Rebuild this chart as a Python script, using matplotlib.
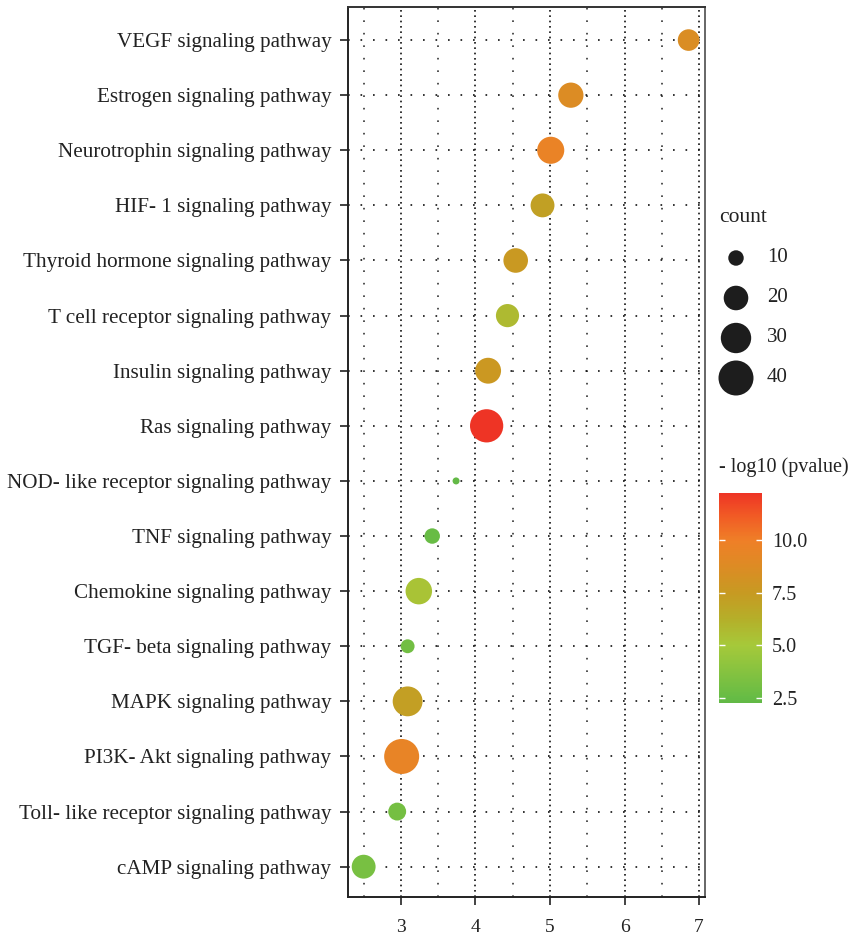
import numpy as np
import matplotlib
matplotlib.use("Agg")
import matplotlib.pyplot as plt
from matplotlib.colors import LinearSegmentedColormap, Normalize
from matplotlib.colorbar import ColorbarBase

plt.rcParams['font.family'] = ['Liberation Serif', 'DejaVu Serif']

# pathways, top to bottom
pathways = [
    "VEGF signaling pathway",
    "Estrogen signaling pathway",
    "Neurotrophin signaling pathway",
    "HIF- 1 signaling pathway",
    "Thyroid hormone signaling pathway",
    "T cell receptor signaling pathway",
    "Insulin signaling pathway",
    "Ras signaling pathway",
    "NOD- like receptor signaling pathway",
    "TNF signaling pathway",
    "Chemokine signaling pathway",
    "TGF- beta signaling pathway",
    "MAPK signaling pathway",
    "PI3K- Akt signaling pathway",
    "Toll- like receptor signaling pathway",
    "cAMP signaling pathway",
]
enrich = [6.86, 5.28, 5.01, 4.90, 4.54, 4.43, 4.17, 4.15, 3.74, 3.42, 3.24, 3.09, 3.09, 3.01, 2.95, 2.50]
counts = [16, 21, 24, 19, 20, 18, 22, 36, 7, 10, 23, 9, 29, 40, 12, 19]
logp = [8.6, 8.7, 9.6, 7.1, 7.6, 5.7, 7.7, 12.25, 2.3, 2.6, 5.3, 3.0, 7.2, 9.5, 3.1, 3.2]

size_breaks = [10, 20, 30, 40]
cbar_ticks = [2.5, 5.0, 7.5, 10.0]

# colour scale sampled from the reference bar
vmin, vmax = 2.26, 12.25
stops = [(2.26, "#62B946"), (2.5, "#66BC45"), (5.0, "#A6C93A"), (6.2, "#B4B02A"),
         (7.5, "#C79A22"), (8.7, "#DC8C24"), (10.0, "#EF7F27"), (11.2, "#F15A25"),
         (12.25, "#EE3425")]
cmap = LinearSegmentedColormap.from_list(
    "gp", [((v - vmin) / (vmax - vmin), c) for v, c in stops])
norm = Normalize(vmin, vmax)


def marker_area(c):
    c = np.asarray(c, dtype=float)
    d_px = 7 + 28 * np.sqrt(np.clip(c - 7, 0, None) / 33)
    return (d_px * 0.72) ** 2


W, H = 855, 938
fig = plt.figure(figsize=(W / 100, H / 100), dpi=100)
ax = fig.add_axes([348 / W, 1 - 897 / H, (705 - 348) / W, (897 - 7) / H])

y = np.arange(len(pathways))[::-1]
ax.scatter(enrich, y, s=marker_area(counts), c=logp, cmap=cmap, norm=norm,
           edgecolors='none', zorder=3)

ax.set_xlim(2.29, 7.08)
ax.set_ylim(-0.55, 15.6)
ax.set_yticks(y)
ax.set_yticklabels(pathways, fontsize=15.2, color='#222222')
ax.set_xticks([3, 4, 5, 6, 7])
ax.set_xticks([2.5, 3.5, 4.5, 5.5, 6.5], minor=True)
ax.tick_params(axis='x', labelsize=14, length=6, width=1.2, pad=10, colors='#222222')
ax.tick_params(axis='y', length=6, width=1.2, pad=6, colors='#222222')
ax.tick_params(axis='x', which='minor', length=0)

ax.grid(axis='y', color='#111111', lw=1.2, ls=(0, (1, 6.5)))
ax.grid(axis='x', which='major', color='#111111', lw=1.2, ls=(0, (1, 2.2)))
ax.grid(axis='x', which='minor', color='#333333', lw=1.2, ls=(0, (1, 6.5)))
ax.set_axisbelow(True)

for side, col in [('left', '#222222'), ('bottom', '#222222'), ('top', '#333333'), ('right', '#666666')]:
    ax.spines[side].set_color(col)
    ax.spines[side].set_linewidth(1.4)

# size legend
fig.text(719 / W, 1 - 217 / H, "count", fontsize=15.5, va='center', ha='left', color='#222222')
lax = fig.add_axes([716 / W, 1 - 400 / H, 80 / W, 162 / H])
lax.set_xlim(0, 80)
lax.set_ylim(-0.55, 3.5)
lax.axis('off')
ly = np.arange(len(size_breaks))[::-1]
lax.scatter([20] * len(size_breaks), ly, s=marker_area(size_breaks), color='#1d1d1d',
            edgecolors='none')
for yy, b in zip(ly, size_breaks):
    lax.text(51, yy, str(b), fontsize=15, va='center', ha='left', color='#222222')

# colour bar
fig.text(719 / W, 1 - 467 / H, "- log10 (pvalue)", fontsize=14.5, va='center', ha='left',
         color='#222222')
cax = fig.add_axes([719 / W, 1 - 703 / H, 43 / W, 210 / H])
cb = ColorbarBase(cax, cmap=cmap, norm=norm, ticks=cbar_ticks)
cb.outline.set_visible(False)
cb.set_ticklabels([f"{t:.1f}" for t in cbar_ticks])
cax.yaxis.set_ticks_position('both')
cax.tick_params(direction='in', length=4, width=1, color='white', labelsize=14.5,
                labelcolor='#222222', labelleft=False, labelright=True, pad=7)

fig.savefig("out.png", dpi=100)
